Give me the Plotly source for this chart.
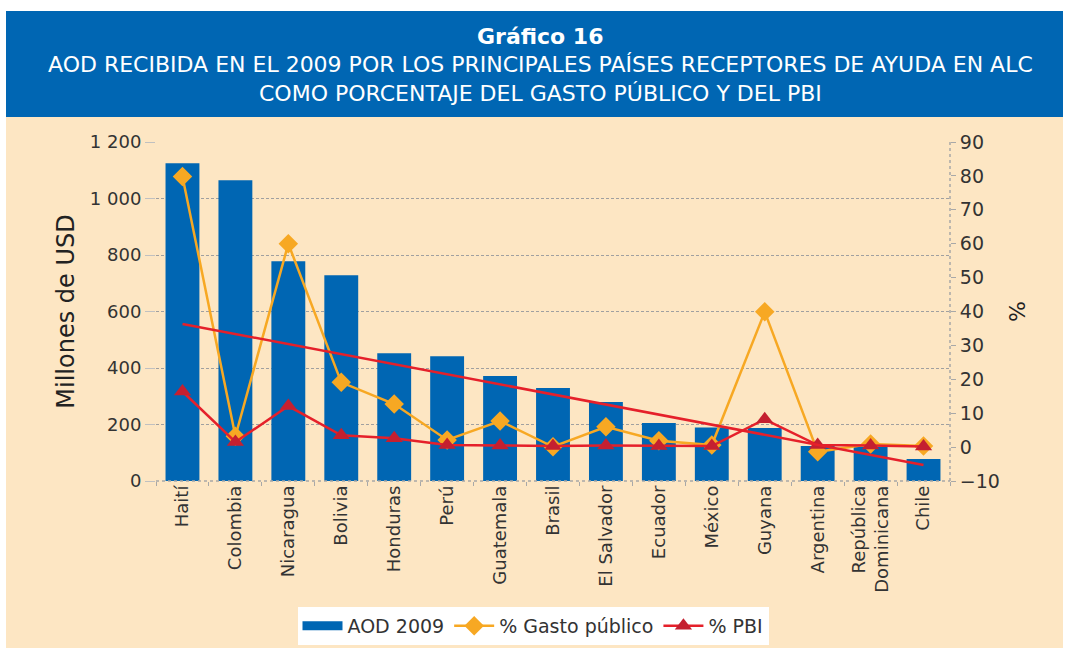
import numpy as np
import plotly.graph_objects as go

# ---------------- data ----------------
paises = ["Haití", "Colombia", "Nicaragua", "Bolivia", "Honduras", "Perú", "Guatemala",
          "Brasil", "El Salvador", "Ecuador", "México", "Guyana", "Argentina",
          "República<br>Dominicana", "Chile"]
aod_2009 = [1125, 1065, 778, 728, 452, 442, 372, 329, 280, 205, 189, 188, 124, 121, 78]
gasto_publico = [79.8, 3.2, 60.0, 19.1, 12.7, 2.1, 7.7, 0.1, 6.0, 1.9, 0.6, 39.9, -1.4, 0.9, 0.3]
pbi = [16.4, 1.5, 12.1, 3.5, 2.6, 0.6, 0.5, 0.3, 0.5, 0.3, 0.3, 8.2, 0.6, 0.5, 0.2]

left_ticks = [0, 200, 400, 600, 800, 1000, 1200]
right_ticks = list(range(-10, 91, 10))

# linear trend of % Gasto público (as in the original chart)
idx = np.arange(len(gasto_publico))
slope, intercept = np.polyfit(idx, gasto_publico, 1)
tendencia = list(slope * idx + intercept)

# ---------------- styling ----------------
BLUE = "#0066B3"
ORANGE = "#F7A823"
RED = "#E5202A"
DARKRED = "#C42030"
BEIGE = "#FDE6C3"
TXT = "#333333"
FONT = "DejaVu Sans"

W, H = 1065, 648
L, R, T, B = 156, 950, 142, 481  # plot area in pixels


def px(x):
    return (x - L) / (R - L)


def py(y):
    return (B - y) / (B - T)


fig = go.Figure()
fig.add_trace(go.Bar(x=paises, y=aod_2009, name="AOD 2009", marker_color=BLUE,
                     marker_line_width=0, yaxis="y", showlegend=False))
# legend swatch for the bars (wide rectangle, as in the original)
fig.add_trace(go.Scatter(x=[None], y=[None], name="AOD 2009", mode="lines",
                         line=dict(color=BLUE, width=9), legendrank=1, hoverinfo="skip"))
fig.add_trace(go.Scatter(x=paises, y=gasto_publico, name="% Gasto público", mode="lines+markers",
                         line=dict(color=ORANGE, width=2.5),
                         marker=dict(symbol="diamond", size=15, color=ORANGE),
                         yaxis="y2", legendrank=2))
fig.add_trace(go.Scatter(x=paises, y=pbi, name="% PBI", mode="lines+markers",
                         line=dict(color=RED, width=2.5),
                         marker=dict(symbol="triangle-up", size=15, color=DARKRED),
                         yaxis="y2", legendrank=3))
fig.add_trace(go.Scatter(x=paises, y=tendencia, name="Tendencia", mode="lines",
                         line=dict(color=RED, width=2.5), showlegend=False,
                         hoverinfo="skip", yaxis="y2"))

shapes = [
    dict(type="rect", xref="paper", yref="paper", x0=px(6), x1=px(1063), y0=py(648), y1=py(117),
         fillcolor=BEIGE, line_width=0, layer="below"),
    dict(type="rect", xref="paper", yref="paper", x0=px(6), x1=px(1063), y0=py(117), y1=py(11),
         fillcolor=BLUE, line_width=0, layer="below"),
    dict(type="line", xref="paper", yref="paper", x0=1, x1=1, y0=0, y1=1,
         line=dict(color="#A8A8A8", width=1.5, dash="dot")),
    dict(type="line", xref="paper", yref="paper", x0=0, x1=1, y0=0, y1=0,
         line=dict(color="#A8A8A8", width=1.5, dash="dot")),
]

annotations = [
    dict(text="<b>Gráfico 16</b>", x=px(540), y=py(36), xref="paper", yref="paper",
         showarrow=False, font=dict(family=FONT, size=22, color="white"),
         xanchor="center", yanchor="middle"),
    dict(text="AOD RECIBIDA EN EL 2009 POR LOS PRINCIPALES PAÍSES RECEPTORES DE AYUDA EN ALC",
         x=px(540), y=py(64), xref="paper", yref="paper", showarrow=False,
         font=dict(family=FONT, size=22, color="white"), xanchor="center", yanchor="middle"),
    dict(text="COMO PORCENTAJE DEL GASTO PÚBLICO Y DEL PBI",
         x=px(540), y=py(93), xref="paper", yref="paper", showarrow=False,
         font=dict(family=FONT, size=22, color="white"), xanchor="center", yanchor="middle"),
]

fig.update_layout(
    width=W, height=H,
    margin=dict(l=L, r=W - R, t=T, b=H - B, pad=0, autoexpand=False),
    paper_bgcolor="white",
    plot_bgcolor="white",
    separators=", ",
    bargap=0.36,
    font=dict(family=FONT, color=TXT, size=18),
    shapes=shapes,
    annotations=annotations,
    showlegend=True,
    legend=dict(orientation="h", x=px(533), xanchor="center", y=py(607), yanchor="top",
                bgcolor="white", borderwidth=0, font=dict(family=FONT, size=19, color=TXT),
                itemwidth=40, tracegroupgap=0),
    xaxis=dict(type="category", range=[-0.5, len(paises) - 0.5], tickangle=-90,
               tickfont=dict(size=18, color=TXT),
               showgrid=False, showline=False, ticks="outside", tickson="boundaries",
               ticklen=4, tickcolor="#A8A8A8", zeroline=False, automargin=False),
    yaxis=dict(range=[0, 1200], tickvals=left_ticks, tickformat=",d",
               title=dict(text="Millones de USD", font=dict(size=24, color="#222222"), standoff=8),
               showgrid=True, gridcolor="#A0A0A0", griddash="3px,2px", gridwidth=1.3,
               ticks="outside", ticklen=10, tickcolor="#C0C0C0", automargin=False,
               zeroline=False, showline=False, tickfont=dict(size=18, color=TXT)),
    yaxis2=dict(range=[-10, 90], tickvals=right_ticks, overlaying="y", side="right",
                title=dict(text="%", font=dict(size=22, color="#222222"), standoff=10),
                showgrid=False, zeroline=False, showline=False, automargin=False,
                ticks="outside", ticklen=5, tickcolor="#A8A8A8",
                tickfont=dict(size=19, color=TXT)),
)

fig.write_html("out.html", config={"displayModeBar": False},
               post_script="document.body.style.margin='0px';document.body.style.padding='0px';")
